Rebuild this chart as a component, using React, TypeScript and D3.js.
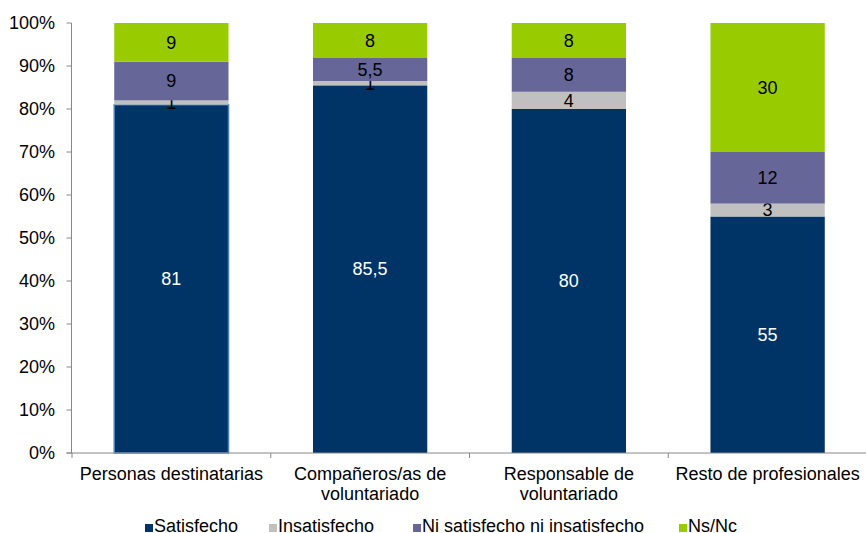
import React from "react";
import * as d3 from "d3";

const categories = ["Personas destinatarias", "Compañeros/as de voluntariado", "Responsable de voluntariado", "Resto de profesionales"];
const categoryLines = [["Personas destinatarias"], ["Compañeros/as de", "voluntariado"], ["Responsable de", "voluntariado"], ["Resto de profesionales"]];
const seriesNames = ["Satisfecho", "Insatisfecho", "Ni satisfecho ni insatisfecho", "Ns/Nc"];
const satisfecho = [81, 85.5, 80, 55];
const insatisfecho = [1, 1, 4, 3];
const ni = [9, 5.5, 8, 12];
const nsnc = [9, 8, 8, 30];
const valueLabels = [["81", "85,5", "80", "55"], ["1", "1", "4", "3"], ["9", "5,5", "8", "12"], ["9", "8", "8", "30"]];
const yTicks = [0, 10, 20, 30, 40, 50, 60, 70, 80, 90, 100];
const colors = ["#003366", "#c0c0c0", "#666699", "#99cc00"];
const textColors = ["#ffffff", "#000000", "#000000", "#000000"];

export default function App() {
  const W = 866, H = 533;
  const left = 72, right = 867, top = 23, bottom = 453;
  const axisX = 71.5;
  const font = "Liberation Sans, Arial, sans-serif";
  const fs = 18;
  const x = d3.scaleBand<string>().domain(categories).range([left, right]).paddingInner(0.425).paddingOuter(0.2125);
  const y = d3.scaleLinear().domain([0, 100]).range([bottom, top]);
  const rows = categories.map((c, i) => ({ cat: c, s0: satisfecho[i], s1: insatisfecho[i], s2: ni[i], s3: nsnc[i] }));
  const stack = d3.stack<any>().keys(["s0", "s1", "s2", "s3"])(rows);
  const step = (right - left) / categories.length;
  const legendX = [145, 269, 413, 679];

  return (
    <svg width={W} height={H} style={{ position: "absolute", left: 0, top: 0 }} fontFamily={font}>
      <rect width={W} height={H} fill="#fff" />
      {stack.map((layer, si) =>
        layer.map((d, ci) => {
          const x0 = x(categories[ci])!;
          const bw = x.bandwidth();
          const y0 = y(d[1]);
          const h = y(d[0]) - y(d[1]);
          const cy = (y(d[0]) + y(d[1])) / 2;
          return (
            <g key={`${si}-${ci}`}>
              <rect x={x0} y={y0} width={bw} height={h} fill={colors[si]}
                stroke={si === 0 && ci === 0 ? "#4f81bd" : "none"} strokeWidth={si === 0 && ci === 0 ? 1.5 : 0} />
              <text x={x0 + bw / 2} y={cy} dy="0.35em" textAnchor="middle" fontSize={fs} fill={textColors[si]}>
                {valueLabels[si][ci]}
              </text>
            </g>
          );
        })
      )}
      <line x1={axisX} x2={axisX} y1={top} y2={bottom} stroke="#888" strokeWidth={1} />
      {yTicks.map((t) => (
        <g key={t}>
          <line x1={axisX - 5} x2={axisX} y1={y(t)} y2={y(t)} stroke="#888" />
          <text x={55} y={y(t)} dy="0.35em" textAnchor="end" fontSize={fs} fill="#000">{t}%</text>
        </g>
      ))}
      <line x1={axisX - 5} x2={W} y1={bottom} y2={bottom} stroke="#888" strokeWidth={1} />
      {categories.map((c, i) => (
        <line key={c} x1={left + step * i} x2={left + step * i} y1={bottom} y2={bottom + 5} stroke="#888" />
      ))}
      {categories.map((c, i) => (
        <text key={c} x={x(c)! + x.bandwidth() / 2} y={480} textAnchor="middle" fontSize={fs} fill="#000">
          {categoryLines[i].map((ln, k) => (
            <tspan key={k} x={x(c)! + x.bandwidth() / 2} dy={k === 0 ? 0 : 20}>{ln}</tspan>
          ))}
        </text>
      ))}
      {seriesNames.map((n, i) => (
        <g key={n}>
          <rect x={legendX[i]} y={524} width={8} height={8} fill={colors[i]} />
          <text x={legendX[i] + 9} y={532} fontSize={fs} fill="#000">{n}</text>
        </g>
      ))}
    </svg>
  );
}
